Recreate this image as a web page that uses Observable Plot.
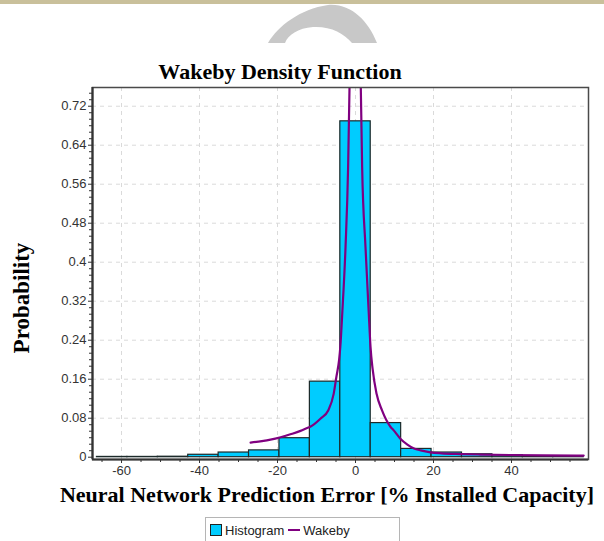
<!DOCTYPE html>
<html><head><meta charset="utf-8">
<script src="https://cdn.jsdelivr.net/npm/d3@7"></script>
<script src="https://cdn.jsdelivr.net/npm/@observablehq/plot@0.6"></script>
<style>
body{margin:0;background:#fff;}
#wrap{position:relative;width:604px;height:541px;overflow:hidden;background:#fff;}
#band{position:absolute;left:0;top:0;width:604px;height:4px;background:#c9c09b;}
#mark{position:absolute;left:0;top:0;}
.serif{font-family:"Liberation Serif","Times New Roman",serif;font-weight:bold;color:#000;white-space:nowrap;}
#title{position:absolute;left:0;width:560px;top:61px;font-size:22px;line-height:22px;text-align:center;}
#chart{position:absolute;left:0;top:80px;}
#ylab{position:absolute;left:-78px;top:287px;width:200px;height:22px;line-height:22px;font-size:23px;text-align:center;transform:rotate(-90deg);}
#xlab{position:absolute;left:27px;width:600px;top:484px;font-size:22px;line-height:22px;text-align:center;}
#legend{position:absolute;left:205px;top:517px;width:195px;height:26px;border:1px solid #b5b5b5;box-sizing:border-box;font-family:"Liberation Sans",Arial,sans-serif;font-size:13px;color:#222;display:flex;align-items:center;padding-left:4px;}
#legend .sw{display:inline-block;width:10px;height:10px;background:#00ccff;border:1px solid #222;margin-right:3px;}
#legend .ln{display:inline-block;width:12px;height:2px;background:#800080;margin:0 3px 0 4px;}
</style></head><body>
<div id="wrap">
  <div id="band"></div>
  <svg id="mark" width="604" height="50"><path d="M268,43 C278,26 300,9 328,5 C350,3 368,20 377,43 L352,43 C344,33 330,26 313,27 C298,28 288,35 285,43 Z" fill="#c8c8c8"/></svg>
  <div id="title" class="serif">Wakeby Density Function</div>
  <div id="chart"></div>
  <div id="ylab" class="serif">Probability</div>
  <div id="xlab" class="serif">Neural Network Prediction Error [% Installed Capacity]</div>
  <div id="legend"><span class="sw"></span>Histogram<span class="ln"></span>Wakeby</div>
</div>
<script>
// Histogram bins (% installed capacity) and probabilities
const binStart = [-66.3, -58.5, -50.7, -42.9, -35.1, -27.3, -19.5, -11.7, -3.9, 3.9, 11.7, 19.5, 27.3, 35.1, 42.9, 50.7];
const binEnd   = [-58.5, -50.7, -42.9, -35.1, -27.3, -19.5, -11.7, -3.9, 3.9, 11.7, 19.5, 27.3, 35.1, 42.9, 50.7, 58.5];
const probability = [0.0006, 0.0006, 0.001, 0.005, 0.0096, 0.014, 0.039, 0.155, 0.689, 0.070, 0.017, 0.0096, 0.006, 0.004, 0.002, 0.001];

// Wakeby density curve
const wakebyX = [-26.9, -24.0, -21.8, -19.2, -16.7, -14.1, -12.4, -11.5, -9.0, -7.0, -5.6, -4.9, -4.2, -3.9, -3.4, -2.56, -1.9, -1.54, -1.3, 0, 1.35, 1.7, 2.56, 3.4, 3.85, 4.4, 5.4, 6.8, 9.0, 9.8, 11.5, 13.3, 15.0, 16.7, 19.2, 22.0, 26.9, 32.0, 39.7, 48.0, 58.5];
const wakebyY = [0.030, 0.033, 0.036, 0.041, 0.047, 0.054, 0.060, 0.063, 0.079, 0.096, 0.130, 0.165, 0.200, 0.226, 0.295, 0.431, 0.595, 0.758, 0.85, 1.0, 0.76, 0.595, 0.431, 0.295, 0.226, 0.180, 0.130, 0.096, 0.062, 0.055, 0.038, 0.026, 0.018, 0.014, 0.010, 0.008, 0.0065, 0.0055, 0.0045, 0.0038, 0.0033];

const xTicks = [-60, -40, -20, 0, 20, 40];
const xTickLabels = ["-60", "-40", "-20", "0", "20", "40"];
const yTicks = [0, 0.08, 0.16, 0.24, 0.32, 0.40, 0.48, 0.56, 0.64, 0.72];
const yTickLabels = ["0", "0.08", "0.16", "0.24", "0.32", "0.4", "0.48", "0.56", "0.64", "0.72"];

const xDomain = [-67.44, 59.74];
const yDomain = [-0.0047, 0.7584];

const bins = binStart.map((s, i) => ({x1: s, x2: binEnd[i], y: probability[i]}));
const curve = wakebyX.map((x, i) => ({x, y: wakebyY[i]}));
const xMinor = d3.range(-65, 60, 5).filter(v => !xTicks.includes(v));
const yMinor = d3.range(0, 0.757, 0.08 / 6).filter(v => !yTicks.some(t => Math.abs(t - v) < 1e-6));
const xLab = new Map(xTicks.map((t, i) => [t, xTickLabels[i]]));
const yLab = new Map(yTicks.map((t, i) => [t, yTickLabels[i]]));

const chart = Plot.plot({
  width: 604,
  height: 400,
  marginLeft: 92,
  marginRight: 16,
  marginTop: 7,
  marginBottom: 21,
  style: {fontFamily: "Liberation Sans, Arial, sans-serif", fontSize: "13px", color: "#333", background: "transparent", overflow: "visible"},
  x: {domain: xDomain, axis: null},
  y: {domain: yDomain, axis: null},
  marks: [
    Plot.gridX(xTicks, {stroke: "#dadada", strokeOpacity: 1, strokeDasharray: "4,4"}),
    Plot.gridY(yTicks.slice(1), {stroke: "#dadada", strokeOpacity: 1, strokeDasharray: "4,4"}),
    Plot.rectY(bins, {x1: "x1", x2: "x2", y1: 0, y2: "y", fill: "#00ccff", stroke: "#1c2a2a", strokeWidth: 1.2}),
    Plot.line(curve, {x: "x", y: "y", stroke: "#800080", strokeWidth: 2.2, curve: "monotone-x", clip: true}),
    Plot.frame({stroke: "#4a4a4a", strokeWidth: 1.5}),
    Plot.axisX(xTicks, {tickSize: 4, tickPadding: 2, tickFormat: d => xLab.get(d), stroke: "#333", fill: "#333", fontSize: 13, label: null}),
    Plot.axisX(xMinor, {tickSize: 3, tickFormat: () => "", stroke: "#333", label: null}),
    Plot.axisY(yTicks, {tickSize: 4, tickPadding: 2, tickFormat: d => yLab.get(d), stroke: "#333", fill: "#333", fontSize: 13, label: null}),
    Plot.axisY(yMinor, {tickSize: 3, tickFormat: () => "", stroke: "#333", label: null}),
    Plot.ruleX([xDomain[0]], {stroke: "#333", strokeWidth: 2.2}),
    Plot.ruleY([yDomain[0]], {stroke: "#333", strokeWidth: 2.2})
  ]
});
document.getElementById("chart").appendChild(chart);
</script>
</body></html>
